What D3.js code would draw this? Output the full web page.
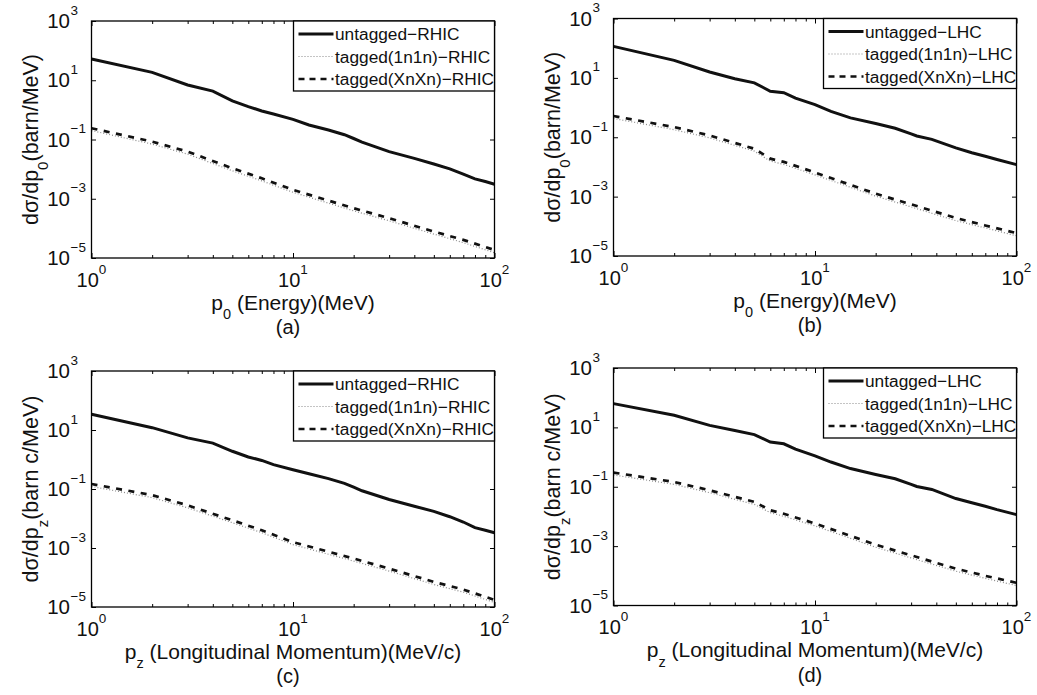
<!DOCTYPE html>
<html><head><meta charset="utf-8">
<script src="https://cdn.jsdelivr.net/npm/d3@7"></script>
<style>
body{margin:0;background:#fff;}
svg{display:block;font-family:"Liberation Sans",Arial,Helvetica,sans-serif;}
</style></head>
<body><svg id="c" width="1037" height="695"></svg>
<script>
// ---------- data ----------
const xUntaggedRHIC = [1,2,3,4,5,6,7,8,10,12,15,18,20,22,30,40,50,60,70,80,90,100];
const untaggedRHIC_E = [52,18.5,6.9,4.3,2.0,1.29,0.92,0.73,0.48,0.31,0.21,0.145,0.108,0.082,0.039,0.023,0.0149,0.0102,0.0068,0.0047,0.0038,0.0031];
const untaggedRHIC_P = [34,12,5.4,3.6,1.9,1.22,0.93,0.67,0.45,0.33,0.224,0.155,0.115,0.087,0.044,0.026,0.0174,0.0115,0.0076,0.0049,0.0040,0.0033];

const xUntaggedLHC = [1,2,3,4,5,6,7,8,10,12,15,20,25,30,32,38,50,60,70,80,100];
const untaggedLHC_E = [115,39,15.8,9.3,6.8,3.55,3.16,2.09,1.26,0.74,0.45,0.29,0.20,0.13,0.11,0.085,0.044,0.030,0.023,0.0178,0.012];
const untaggedLHC_P = [63,25.7,11.7,7.9,5.7,3.2,2.8,1.86,1.10,0.68,0.41,0.26,0.186,0.12,0.102,0.081,0.040,0.029,0.022,0.017,0.0115];

const xTaggedRHIC = [1,2,3,5,7,10,20,30,50,70,100];
const xnxnRHIC_E = [0.24,0.085,0.039,0.0107,0.0049,0.0020,4.8e-4,2.2e-4,7.8e-5,4.1e-5,1.86e-5];
const n1n1RHIC_E = [0.20,0.070,0.032,0.0088,0.0040,0.00165,3.9e-4,1.8e-4,6.4e-5,3.3e-5,1.5e-5];
const xnxnRHIC_P = [0.148,0.062,0.028,0.0087,0.0040,0.00158,4.4e-4,2.0e-4,7.1e-5,3.9e-5,1.74e-5];
const n1n1RHIC_P = [0.122,0.051,0.023,0.0072,0.0033,0.0013,3.6e-4,1.65e-4,5.8e-5,3.2e-5,1.42e-5];

const xTaggedLHC = [1,2,3,5,6,7,10,20,30,50,70,100];
const xnxnLHC_E = [0.52,0.22,0.115,0.041,0.019,0.0148,0.0065,0.00126,5.5e-4,1.9e-4,1.07e-4,5.9e-5];
const n1n1LHC_E = [0.43,0.18,0.095,0.034,0.0157,0.0122,0.0054,0.00104,4.5e-4,1.55e-4,8.8e-5,4.8e-5];
const xnxnLHC_P = [0.30,0.145,0.076,0.031,0.0162,0.0123,0.0058,0.00112,4.9e-4,1.74e-4,1.0e-4,5.8e-5];
const n1n1LHC_P = [0.25,0.12,0.063,0.0255,0.0134,0.0101,0.0048,9.2e-4,4.0e-4,1.43e-4,8.2e-5,4.7e-5];

const xDomain = [1,100];
const yDomain = [1e-5,1e3];
const xMajorTicks = [1,10,100];
const yTickExps = [-5,-3,-1,1,3];
const legendRHIC = ["untagged\u2212RHIC","tagged(1n1n)\u2212RHIC","tagged(XnXn)\u2212RHIC"];
const legendLHC = ["untagged\u2212LHC","tagged(1n1n)\u2212LHC","tagged(XnXn)\u2212LHC"];
const captions = ["(a)","(b)","(c)","(d)"];

// ---------- layout ----------
const panels = [
  {L:91.5,R:494.5,T:21,B:258, legL:293.5, untX:xUntaggedRHIC, unt:untaggedRHIC_E, tagX:xTaggedRHIC, n1:n1n1RHIC_E, xn:xnxnRHIC_E, leg:legendRHIC, cap:captions[0], kind:"E"},
  {L:613.5,R:1016.5,T:18.5,B:256, legL:823.5, untX:xUntaggedLHC, unt:untaggedLHC_E, tagX:xTaggedLHC, n1:n1n1LHC_E, xn:xnxnLHC_E, leg:legendLHC, cap:captions[1], kind:"E"},
  {L:91.5,R:494.5,T:371,B:607, legL:293.5, untX:xUntaggedRHIC, unt:untaggedRHIC_P, tagX:xTaggedRHIC, n1:n1n1RHIC_P, xn:xnxnRHIC_P, leg:legendRHIC, cap:captions[2], kind:"P"},
  {L:613.5,R:1016.5,T:368,B:605.5, legL:823.5, untX:xUntaggedLHC, unt:untaggedLHC_P, tagX:xTaggedLHC, n1:n1n1LHC_P, xn:xnxnLHC_P, leg:legendLHC, cap:captions[3], kind:"P"}
];

const svg = d3.select("#c");

panels.forEach(p => {
  const x = d3.scaleLog().domain(xDomain).range([p.L,p.R]);
  const y = d3.scaleLog().domain(yDomain).range([p.B,p.T]);
  const g = svg.append("g");

  const cid = "clip"+p.cap.replace(/[()]/g,"");
  svg.append("clipPath").attr("id",cid).append("rect")
    .attr("x",p.L).attr("y",p.T).attr("width",p.R-p.L).attr("height",p.B-p.T);

  const line = (xs) => d3.line().x((d,i)=>x(xs[i])).y(d=>y(d));
  const plot = g.append("g").attr("clip-path",`url(#${cid})`);
  plot.append("path").datum(p.n1).attr("d",line(p.tagX))
    .attr("fill","none").attr("stroke","#8a8a8a").attr("stroke-width",1.2).attr("stroke-dasharray","1,2");
  plot.append("path").datum(p.xn).attr("d",line(p.tagX))
    .attr("fill","none").attr("stroke","#111").attr("stroke-width",2.7).attr("stroke-dasharray","6,6.5");
  plot.append("path").datum(p.unt).attr("d",line(p.untX))
    .attr("fill","none").attr("stroke","#111").attr("stroke-width",3);

  const minor = [];
  [1,10].forEach(dec => { for(let k=2;k<=9;k++) minor.push(dec*k); });
  const xAxB = d3.axisBottom(x).tickValues(xMajorTicks).tickSize(-5).tickFormat("");
  const xAxT = d3.axisTop(x).tickValues(xMajorTicks).tickSize(-5).tickFormat("");
  const xmB = d3.axisBottom(x).tickValues(minor).tickSize(-3).tickFormat("");
  const xmT = d3.axisTop(x).tickValues(minor).tickSize(-3).tickFormat("");
  const yTicks = yTickExps.map(e=>Math.pow(10,e));
  const yAxL = d3.axisLeft(y).tickValues(yTicks).tickSize(-4.5).tickFormat("");
  const yAxR = d3.axisRight(y).tickValues(yTicks).tickSize(-4.5).tickFormat("");
  [[xAxB,`translate(0,${p.B})`],[xmB,`translate(0,${p.B})`],[xAxT,`translate(0,${p.T})`],[xmT,`translate(0,${p.T})`],
   [yAxL,`translate(${p.L},0)`],[yAxR,`translate(${p.R},0)`]].forEach(([ax,tr])=>{
    const a = g.append("g").attr("transform",tr).call(ax);
    a.select(".domain").remove();
    a.selectAll("line").attr("stroke","#000").attr("stroke-width",1);
  });
  g.append("rect").attr("x",p.L).attr("y",p.T).attr("width",p.R-p.L).attr("height",p.B-p.T)
    .attr("fill","none").attr("stroke","#000").attr("stroke-width",1.3);

  xMajorTicks.forEach(v => {
    const t = g.append("text").attr("x",x(v)).attr("y",p.B+28.5).attr("text-anchor","middle")
      .attr("font-size",20).attr("fill","#111");
    t.append("tspan").text("10");
    t.append("tspan").attr("dy",-13).attr("font-size",13.5).text(String(Math.round(Math.log10(v))));
  });
  yTickExps.forEach(e => {
    const yy = y(Math.pow(10,e));
    g.append("text").attr("x",p.L-21.5).attr("y",yy+7).attr("text-anchor","end")
      .attr("font-size",20.5).attr("fill","#111").text("10");
    g.append("text").attr("x",p.L-21).attr("y",yy-6.5).attr("text-anchor","start")
      .attr("font-size",13.5).attr("fill","#111").text(e<0 ? "\u2212"+(-e) : String(e));
  });

  const cx = (p.L+p.R)/2, cy = (p.T+p.B)/2;
  const xt = g.append("text").attr("x",cx).attr("y",p.B+51.5).attr("text-anchor","middle")
    .attr("font-size",21).attr("fill","#111");
  xt.append("tspan").text("p");
  xt.append("tspan").attr("dy",9.5).attr("font-size",14.5).text(p.kind==="E"?"0":"z");
  xt.append("tspan").attr("dy",-9.5).text(p.kind==="E"?" (Energy)(MeV)":" (Longitudinal Momentum)(MeV/c)");

  const yt = g.append("text").attr("transform",`translate(${p.L-53.5},${cy}) rotate(-90)`)
    .attr("text-anchor","middle").attr("font-size",21.5).attr("fill","#111");
  yt.append("tspan").text("d\u03c3/dp");
  yt.append("tspan").attr("dy",9.5).attr("font-size",15).text(p.kind==="E"?"0":"z");
  yt.append("tspan").attr("dy",-9.5).text(p.kind==="E"?"(barn/MeV)":"(barn c/MeV)");

  g.append("text").attr("x",cx-5).attr("y",p.B+76).attr("text-anchor","middle")
    .attr("font-size",20).attr("fill","#111").text(p.cap);

  const lg = g.append("g");
  lg.append("rect").attr("x",p.legL).attr("y",p.T).attr("width",p.R-p.legL).attr("height",70)
    .attr("fill","#fff").attr("stroke","#000").attr("stroke-width",1.3);
  const rows = [13,35.5,58];
  const styles = [
    {c:"#111",w:3,d:null},
    {c:"#8a8a8a",w:1.2,d:"1,2"},
    {c:"#111",w:2.7,d:"6,5"}
  ];
  p.leg.forEach((name,i)=>{
    const ry = p.T+rows[i];
    const s = styles[i];
    const ln = lg.append("line").attr("x1",p.legL+5).attr("x2",p.legL+40).attr("y1",ry).attr("y2",ry)
      .attr("stroke",s.c).attr("stroke-width",s.w);
    if(s.d) ln.attr("stroke-dasharray",s.d);
    lg.append("text").attr("x",p.legL+41.5).attr("y",ry+6).attr("font-size",17.3).attr("fill","#111").text(name);
  });
});
</script>
</body></html>
